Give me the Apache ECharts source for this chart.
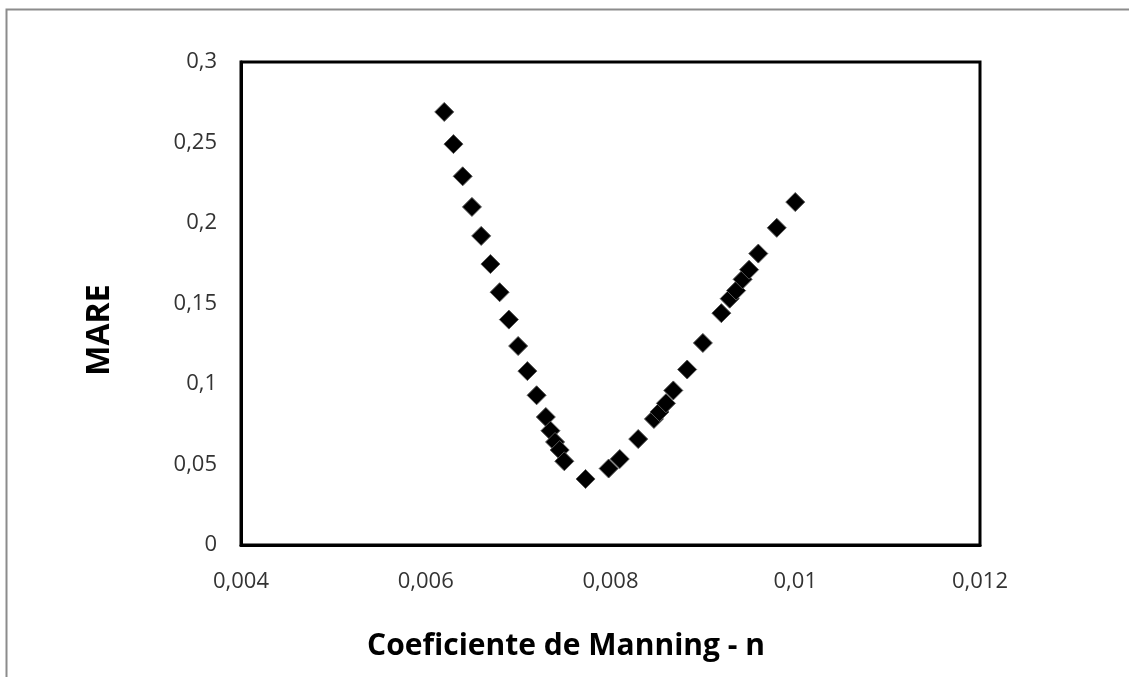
<!DOCTYPE html>
<html>
<head>
<meta charset="utf-8">
<script src="https://cdn.jsdelivr.net/npm/echarts@6/dist/echarts.min.js"></script>
<style>html,body{margin:0;padding:0;background:#fff}#c{width:1129px;height:677px}</style>
</head>
<body>
<div id="c"></div>
<script>
const manningN = [0.0062,0.0063,0.0064,0.0065,0.0066,0.0067,0.0068,0.0069,0.0070,0.0071,0.0072,0.0073,0.00735,0.0074,0.00745,0.0075,0.00773,0.00798,0.0081,0.0083,0.00847,0.00853,0.0086,0.00868,0.00883,0.0090,0.0092,0.00929,0.00936,0.00943,0.0095,0.0096,0.0098,0.0100];
const mare = [0.269,0.249,0.229,0.210,0.192,0.1745,0.157,0.140,0.1236,0.108,0.093,0.0795,0.071,0.064,0.059,0.052,0.041,0.0475,0.0534,0.0658,0.0783,0.0826,0.088,0.096,0.109,0.1255,0.144,0.153,0.158,0.165,0.171,0.181,0.197,0.213];
const xTitle = 'Coeficiente de Manning - n';
const yTitle = 'MARE';

const fmt = v => parseFloat(v.toFixed(6)).toString().replace('.', ',');
const titleFont = { fontFamily: 'Open Sans', fontWeight: 'bold', fontSize: 30, fill: '#000' };
const chart = echarts.init(document.getElementById('c'));
chart.setOption({
  animation: false,
  backgroundColor: '#fff',
  graphic: [{
    type: 'rect', left: 4, top: 7, silent: true,
    shape: { width: 1300, height: 800 },
    style: { fill: 'none', stroke: '#8c8c8c', lineWidth: 2 }
  }, {
    type: 'text', x: 566, y: 646, silent: true,
    style: Object.assign({ text: xTitle, align: 'center', verticalAlign: 'middle' }, titleFont)
  }, {
    type: 'text', x: 100, y: 330, rotation: Math.PI / 2, silent: true,
    style: Object.assign({ text: yTitle, align: 'center', verticalAlign: 'middle' }, titleFont, { fontSize: 32 })
  }],
  grid: { left: 241, top: 62, right: 149, bottom: 132, show: true, borderColor: '#000', borderWidth: 3, backgroundColor: 'transparent' },
  xAxis: {
    type: 'value', min: 0.004, max: 0.012, interval: 0.002,
    axisLine: { show: true, lineStyle: { color: '#000', width: 3 } },
    axisTick: { show: false },
    splitLine: { show: false },
    axisLabel: { formatter: fmt, margin: 26, fontFamily: 'Open Sans', fontSize: 22, color: '#333' }
  },
  yAxis: {
    type: 'value', min: 0, max: 0.3, interval: 0.05,
    axisLine: { show: true, lineStyle: { color: '#000', width: 3 } },
    axisTick: { show: false },
    splitLine: { show: false },
    axisLabel: { formatter: fmt, margin: 24, fontFamily: 'Open Sans', fontSize: 22, color: '#333' }
  },
  series: [{
    type: 'scatter',
    data: manningN.map((x, i) => [x, mare[i]]),
    symbol: 'diamond',
    symbolSize: 19,
    itemStyle: { color: '#000', borderColor: '#555', borderWidth: 1, opacity: 1 }
  }]
});
</script>
</body>
</html>
